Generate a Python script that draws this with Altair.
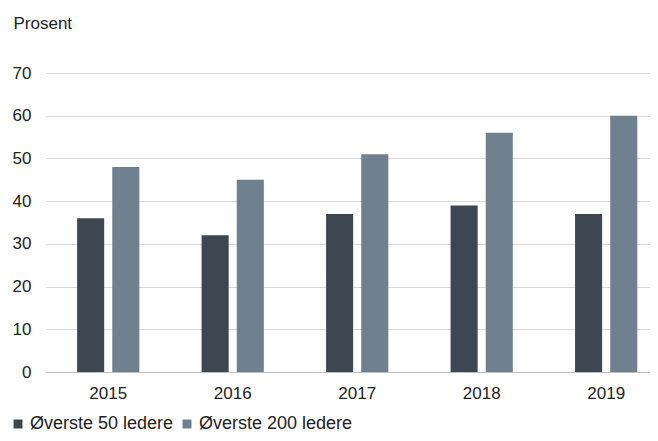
import altair as alt
import pandas as pd

years = ["2015", "2016", "2017", "2018", "2019"]
series = ["Øverste 50 ledere", "Øverste 200 ledere"]
top50 = [36, 32, 37, 39, 37]
top200 = [48, 45, 51, 56, 60]
colors = ["#3d4751", "#6f808e"]

rows = []
for i, y in enumerate(years):
    rows.append({"year": y, "serie": series[0], "val": top50[i]})
    rows.append({"year": y, "serie": series[1], "val": top200[i]})
df = pd.DataFrame(rows)

FONT = "Liberation Sans"

chart = alt.Chart(df).mark_bar().encode(
    x=alt.X("year:N", sort=years, title=None,
            scale=alt.Scale(paddingInner=0.5, paddingOuter=0.176, align=0.71),
            axis=alt.Axis(labelAngle=0, ticks=False, domainColor="#bfbfbf",
                          labelPadding=13, labelFontSize=17, labelFont=FONT,
                          labelColor="#222222", grid=False)),
    xOffset=alt.XOffset("serie:N", sort=series,
                        scale=alt.Scale(paddingInner=0.23, paddingOuter=0)),
    y=alt.Y("val:Q", title="Prosent",
            scale=alt.Scale(domain=[0, 70]),
            axis=alt.Axis(values=[0, 10, 20, 30, 40, 50, 60, 70], domain=False, ticks=False,
                          labelPadding=15, labelFontSize=17, labelFont=FONT,
                          labelColor="#222222", gridColor="#d9d9d9",
                          titleAngle=0, titleX=-33, titleY=-50, titleAlign="left",
                          titleBaseline="middle", titleFontSize=17, titleFont=FONT,
                          titleFontWeight="normal", titleColor="#222222")),
    color=alt.Color("serie:N", sort=series,
                    scale=alt.Scale(domain=series, range=colors),
                    legend=alt.Legend(title=None, orient="none", legendX=-37, legendY=342,
                                      direction="horizontal", symbolType="square",
                                      symbolSize=81, symbolStrokeWidth=0,
                                      labelFontSize=18, labelFont=FONT, labelColor="#222222",
                                      labelOffset=3, columnPadding=4)),
).properties(
    width=604, height=299,
    autosize=alt.AutoSizeParams(type="none"),
    padding={"left": 38, "top": 65, "right": 0, "bottom": 62},
).configure_view(stroke=None)

chart.save("out.html", embed_options={"renderer": "svg", "actions": False})
